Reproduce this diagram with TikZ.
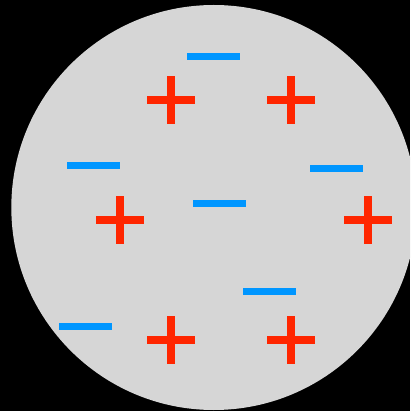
\documentclass[tikz,border=0pt]{standalone}
\definecolor{bgcircle}{HTML}{D6D6D6}
\definecolor{plusred}{HTML}{FF2600}
\definecolor{minusblue}{HTML}{0096FF}
\tikzset{
  minusbar/.style={fill=minusblue, draw=none},
  plusbar/.style={fill=plusred, draw=none},
  pluscharge/.pic={
    \fill[plusbar] (-24,-4) rectangle (24,4);
    \fill[plusbar] (-4,-24) rectangle (4,24);
  },
  minuscharge/.pic={
    \fill[minusbar] (-26.5,-3.5) rectangle (26.5,3.5);
  }
}
\begin{document}
\begin{tikzpicture}[x=1pt,y=-1pt]
\useasboundingbox (0,0) rectangle (410,411);
\fill[black] (0,0) rectangle (410,411);
\begin{scope}
\clip (0,0) rectangle (410,411);
\fill[bgcircle] (213.8,207.5) circle[radius=202.5];
\end{scope}
% minus charges
\pic at (213.5,56.5) {minuscharge};
\pic at (93.5,165.5) {minuscharge};
\pic at (336.5,168.5) {minuscharge};
\pic at (219.5,203.5) {minuscharge};
\pic at (269.5,291.5) {minuscharge};
\pic at (85.5,326.5) {minuscharge};
% plus charges
\pic at (171,100) {pluscharge};
\pic at (291,100) {pluscharge};
\pic at (120.3,220) {pluscharge};
\pic at (368.3,220) {pluscharge};
\pic at (171,340) {pluscharge};
\pic at (291,340) {pluscharge};
\end{tikzpicture}
\end{document}
